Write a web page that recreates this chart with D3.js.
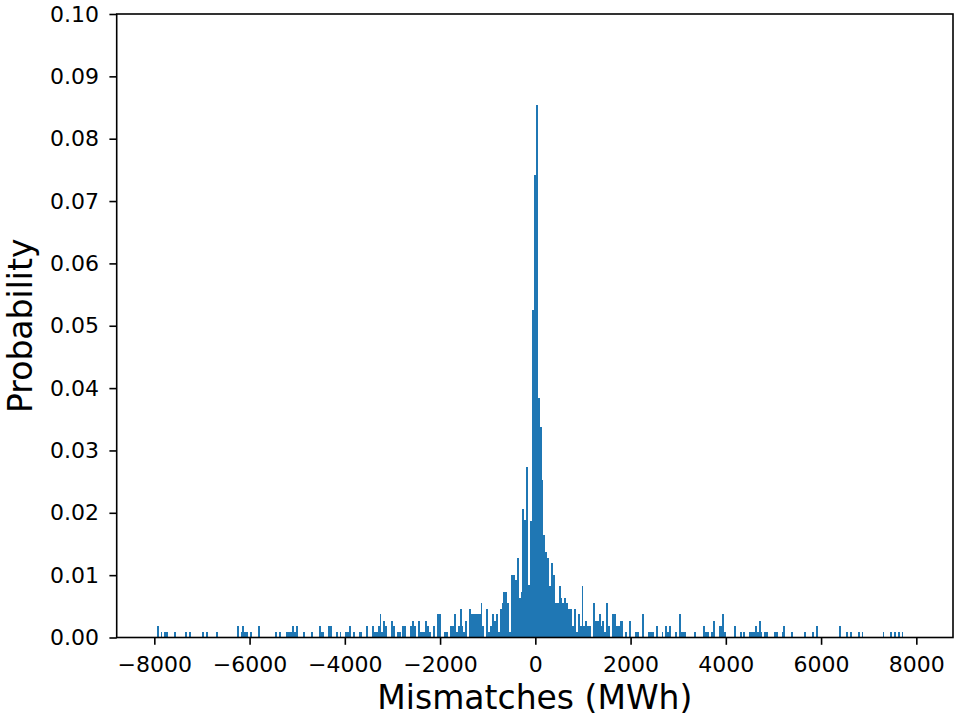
<!DOCTYPE html>
<html lang="en">
<head>
<meta charset="UTF-8">
<title>Mismatches histogram</title>
<script src="https://d3js.org/d3.v7.min.js"></script>
<style>
  body { margin: 0; background: #fff; }
  svg { display: block; font-family: "DejaVu Sans", sans-serif; }
</style>
</head>
<body>
<svg width="954" height="716"></svg>
<script>
// histogram bins (left edge, MWh) and probability of each non-empty bin
const binWidth = 40;
const binLeft = [
  -7950, -7870, -7790, -7750, -7590, -7350, -7270, -6990, -6910, -6710,
  -6270, -6190, -6150, -6110, -6070, -5990, -5830, -5470, -5390,
  -5230, -5190, -5150, -5110, -5070, -5030, -4870, -4710, -4550, -4510, -4470,
  -4350, -4310, -4190, -4110, -3990, -3950, -3910, -3830, -3710, -3670,
  -3550, -3430, -3390, -3350, -3310, -3270, -3230, -3190, -3150,
  -3030, -2990, -2910, -2870, -2790, -2750, -2630, -2590, -2550,
  -2470, -2430, -2390, -2350, -2310, -2270, -2230, -2150, -2070, -2030,
  -1910, -1870, -1790, -1750, -1710, -1670, -1630, -1590, -1550, -1510, -1470,
  -1390, -1350, -1310, -1270, -1230, -1190, -1150, -1110, -1030, -990,
  -950, -910, -870, -830, -790, -750, -710, -670, -630, -590, -550,
  -510, -470, -430, -390, -350, -310, -270, -230, -190, -150, -110, -70, -30,
  10, 50, 90, 130, 170, 210, 250, 290, 330, 370,
  410, 450, 490, 530, 570, 610, 650, 690, 730, 770,
  810, 850, 890, 930, 970, 1010, 1050, 1090, 1130,
  1210, 1250, 1290, 1330, 1370, 1410, 1450, 1490, 1530,
  1610, 1650, 1690, 1730, 1770, 1810, 1890, 1970,
  2090, 2130, 2250, 2370, 2410, 2450, 2530, 2650, 2730, 2770, 2810, 2930,
  3010, 3050, 3090, 3130, 3330, 3530, 3570, 3610, 3690, 3730,
  3850, 3890, 3930, 3970, 4170, 4290, 4370,
  4490, 4530, 4570, 4610, 4650, 4690, 4730, 4810, 4850,
  5010, 5050, 5170, 5210, 5370, 5650, 5810, 5890,
  6370, 6530, 6610, 6770, 6850,
  7290, 7450, 7530, 7610, 7690
];
const probability = [
  0.0018, 0.0009, 0.0009, 0.0009, 0.0009, 0.0009, 0.0009, 0.0009, 0.0009, 0.0009,
  0.0018, 0.0009, 0.0018, 0.0009, 0.0009, 0.0009, 0.0018, 0.0009, 0.0009,
  0.0009, 0.0009, 0.0009, 0.0018, 0.0009, 0.0018, 0.0009, 0.0009, 0.0018, 0.0009, 0.0009,
  0.0018, 0.0018, 0.0009, 0.0009, 0.0009, 0.0009, 0.0018, 0.0009, 0.0009, 0.0009,
  0.0018, 0.0018, 0.0009, 0.0009, 0.0018, 0.0037, 0.0009, 0.0027, 0.0018,
  0.0027, 0.0018, 0.0009, 0.0009, 0.0018, 0.0018, 0.0018, 0.0027, 0.0018,
  0.0027, 0.0009, 0.0009, 0.0009, 0.0027, 0.0018, 0.0009, 0.0018, 0.0037, 0.0037,
  0.0009, 0.0009, 0.0018, 0.0018, 0.0037, 0.0009, 0.0018, 0.0046, 0.0018, 0.0009, 0.0027,
  0.0046, 0.0037, 0.0037, 0.0037, 0.0037, 0.0037, 0.0055, 0.0018, 0.0046, 0.0009,
  0.0018, 0.0037, 0.0027, 0.0037, 0.0009, 0.0046, 0.0055, 0.0073, 0.0073, 0.0055, 0.0009,
  0.0101, 0.0101, 0.0092, 0.0128, 0.0064, 0.0073, 0.0206, 0.0188, 0.0273, 0.0084, 0.0187, 0.0525, 0.0742,
  0.0854, 0.0384, 0.0337, 0.0253, 0.0165, 0.0137, 0.0128, 0.0082, 0.0119, 0.0101,
  0.0055, 0.0055, 0.0082, 0.0064, 0.0055, 0.0064, 0.0055, 0.0046, 0.0046, 0.0018,
  0.0046, 0.0009, 0.0037, 0.0018, 0.0082, 0.0018, 0.0027, 0.0018, 0.0018,
  0.0055, 0.0027, 0.0027, 0.0037, 0.0018, 0.0027, 0.0009, 0.0055, 0.0018,
  0.0037, 0.0037, 0.0018, 0.0018, 0.0027, 0.0027, 0.0009, 0.0027,
  0.0009, 0.0009, 0.0037, 0.0009, 0.0009, 0.0009, 0.0018, 0.0009, 0.0018, 0.0009, 0.0018, 0.0009,
  0.0037, 0.0009, 0.0009, 0.0009, 0.0009, 0.0018, 0.0009, 0.0009, 0.0009, 0.0027,
  0.0018, 0.0018, 0.0037, 0.0009, 0.0018, 0.0009, 0.0009,
  0.0009, 0.0009, 0.0009, 0.0018, 0.0009, 0.0027, 0.0009, 0.0009, 0.0009,
  0.0009, 0.0009, 0.0009, 0.0018, 0.0009, 0.0009, 0.0009, 0.0018,
  0.0018, 0.0009, 0.0009, 0.0009, 0.0009,
  0.0009, 0.0009, 0.0009, 0.0009, 0.0009
];
const xTicks = [-8000, -6000, -4000, -2000, 0, 2000, 4000, 6000, 8000];
const yTicks = [0, 0.01, 0.02, 0.03, 0.04, 0.05, 0.06, 0.07, 0.08, 0.09, 0.10];

const bins = binLeft.map((b, i) => ({ left: b, p: probability[i] }));

const svg = d3.select("svg");
const plotLeft = 116.7, plotRight = 953, plotTop = 14, plotBottom = 637.5;

const x = d3.scaleLinear().domain([-8790, 8770]).range([plotLeft, plotRight]);
const y = d3.scaleLinear().domain([0, 0.10]).range([plotBottom, plotTop]);

// bars
svg.append("g")
   .attr("shape-rendering", "crispEdges")
   .selectAll("rect")
   .data(bins)
   .enter()
   .append("rect")
   .attr("x", d => x(d.left))
   .attr("width", d => x(d.left + binWidth) - x(d.left))
   .attr("y", d => y(d.p))
   .attr("height", d => y(0) - y(d.p))
   .attr("fill", "#1f77b4");

// axes
const xAxis = svg.append("g")
   .attr("transform", `translate(0,${plotBottom})`)
   .call(d3.axisBottom(x)
     .tickValues(xTicks)
     .tickSize(7.3)
     .tickPadding(11.5)
     .tickFormat(d => d < 0 ? "\u2212" + Math.abs(d) : String(d)));

const yAxis = svg.append("g")
   .attr("transform", `translate(${plotLeft},0)`)
   .call(d3.axisLeft(y)
     .tickValues(yTicks)
     .tickSize(7.3)
     .tickPadding(10.4)
     .tickFormat(d3.format(".2f")));

[xAxis, yAxis].forEach(g => {
  g.select(".domain").remove();
  g.selectAll(".tick line").attr("stroke", "#000").attr("stroke-width", 1.6);
  g.selectAll(".tick text")
   .attr("fill", "#000")
   .style("font-family", "DejaVu Sans")
   .style("font-size", "22px");
});

// frame (spines)
svg.append("rect")
   .attr("x", plotLeft)
   .attr("y", plotTop)
   .attr("width", plotRight - plotLeft)
   .attr("height", plotBottom - plotTop)
   .attr("fill", "none")
   .attr("stroke", "#000")
   .attr("stroke-width", 1.6);

// axis labels
svg.append("text")
   .attr("x", (plotLeft + plotRight) / 2)
   .attr("y", 709)
   .attr("text-anchor", "middle")
   .style("font-size", "33px")
   .text("Mismatches (MWh)");

svg.append("text")
   .attr("transform", `translate(32,${(plotTop + plotBottom) / 2}) rotate(-90)`)
   .attr("text-anchor", "middle")
   .style("font-size", "33px")
   .text("Probability");
</script>
</body>
</html>
